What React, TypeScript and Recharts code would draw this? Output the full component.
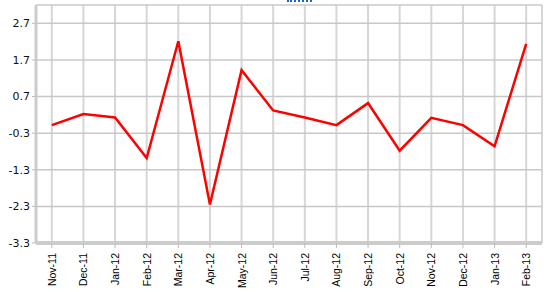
import { LineChart, Line, XAxis, YAxis, CartesianGrid } from "recharts";

const months = [
  "Nov-11", "Dec-11", "Jan-12", "Feb-12", "Mar-12", "Apr-12", "May-12", "Jun-12",
  "Jul-12", "Aug-12", "Sep-12", "Oct-12", "Nov-12", "Dec-12", "Jan-13", "Feb-13",
];
const values = [
  -0.08, 0.22, 0.13, -0.98, 2.21, -2.25, 1.42, 0.32,
  0.13, -0.08, 0.52, -0.78, 0.12, -0.08, -0.66, 2.14,
];
const yTicks = [-3.3, -2.3, -1.3, -0.3, 0.7, 1.7, 2.7];

const data = months.map((m, i) => ({ month: m, value: values[i] }));

function MonthTick(props: any) {
  const { x, y, payload } = props;
  return (
    <text
      x={0}
      y={0}
      transform={`translate(${x + 4},${y + 3}) rotate(-90)`}
      textAnchor="end"
      fontSize={10.5}
      fontFamily="'Liberation Sans', Arial, sans-serif"
      fill="#000"
    >
      {payload.value}
    </text>
  );
}

export default function App() {
  return (
    <div style={{ position: "absolute", left: 0, top: 0, width: 559, height: 292, background: "#fff" }}>
      <div
        style={{
          position: "absolute",
          left: 287,
          top: 0,
          width: 25,
          borderBottom: "2px dotted #1f66c2",
        }}
      />
      <LineChart
        width={559}
        height={292}
        data={data}
        margin={{ top: 5, right: 17, left: 0, bottom: 0 }}
      >
        <CartesianGrid horizontal={false} stroke="#d6d6d6" strokeWidth={2} />
        <CartesianGrid vertical={false} stroke="#c8c8c8" strokeWidth={1.5} />
        <XAxis
          dataKey="month"
          scale="band"
          height={49}
          interval={0}
          tick={<MonthTick />}
          axisLine={{ stroke: "#cccccc", strokeWidth: 4 }}
          tickLine={{ stroke: "#bbbbbb" }}
          tickSize={5}
        />
        <YAxis
          width={36}
          domain={[-3.3, 3.2]}
          ticks={yTicks}
          allowDataOverflow
          tick={{ fontSize: 11, fontFamily: "'DejaVu Sans', Verdana, sans-serif", fill: "#111" }}
          axisLine={{ stroke: "#cccccc", strokeWidth: 3 }}
          tickLine={{ stroke: "#bbbbbb" }}
          tickSize={4}
          tickFormatter={(v: number) => v.toFixed(1)}
        />
        <Line
          type="linear"
          dataKey="value"
          stroke="#ff0000"
          strokeWidth={2.5}
          dot={false}
          isAnimationActive={false}
        />
      </LineChart>
    </div>
  );
}
